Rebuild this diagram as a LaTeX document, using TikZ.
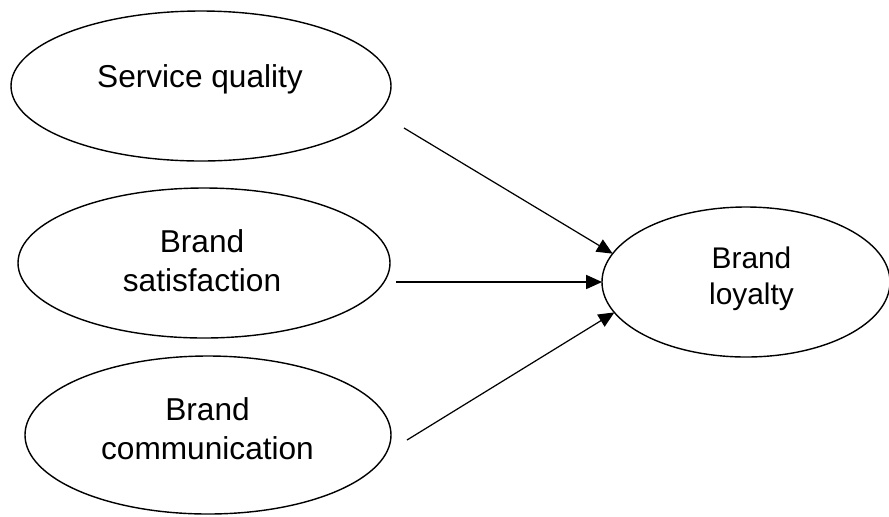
\documentclass[tikz,border=0pt]{standalone}
\usepackage{fontspec}
\setmainfont{Liberation Sans}
\usetikzlibrary{shapes.geometric,arrows.meta}

\begin{document}
\begin{tikzpicture}[
    every node/.style={align=center},
    oval/.style={ellipse, draw=black, line width=0.8pt, inner sep=0pt, outer sep=0pt},
    lbl/.style={font=\fontsize{18}{22}\selectfont, inner sep=0pt},
    arr/.style={-{Triangle[length=9pt,width=8pt]}, line width=0.7pt, black},
]
    \useasboundingbox (0,0) rectangle (17.78,-10.32);
    \node[oval, minimum width=7.6cm, minimum height=3.0cm] (sq) at (4.02,-1.72) {};
    \node[lbl] (sqlbl) at (4.00,-1.58) {Service quality};
    \node[oval, minimum width=7.44cm, minimum height=3.0cm] (bs) at (4.08,-5.26) {};
    \node[lbl] (bslbl) at (4.04,-5.21) {Brand\\satisfaction};
    \node[oval, minimum width=7.32cm, minimum height=3.16cm] (bc) at (4.16,-8.70) {};
    \node[lbl] (bclbl) at (4.15,-8.58) {Brand\\communication};
    \node[oval, minimum width=5.76cm, minimum height=3.0cm] (bl) at (14.92,-5.64) {};
    \node[lbl, font=\fontsize{17}{20.5}\selectfont] (bllbl) at (15.03,-5.57) {Brand\\loyalty};
    \coordinate (sqout) at (8.08,-2.56);
    \coordinate (bsout) at (7.92,-5.64);
    \coordinate (bcout) at (8.14,-8.80);
    \draw[arr] (sqout) -- (bl.168.6);
    \draw[arr] (bsout) -- (bl.west);
    \draw[arr] (bcout) -- (bl.-167.4);
\end{tikzpicture}
\end{document}
